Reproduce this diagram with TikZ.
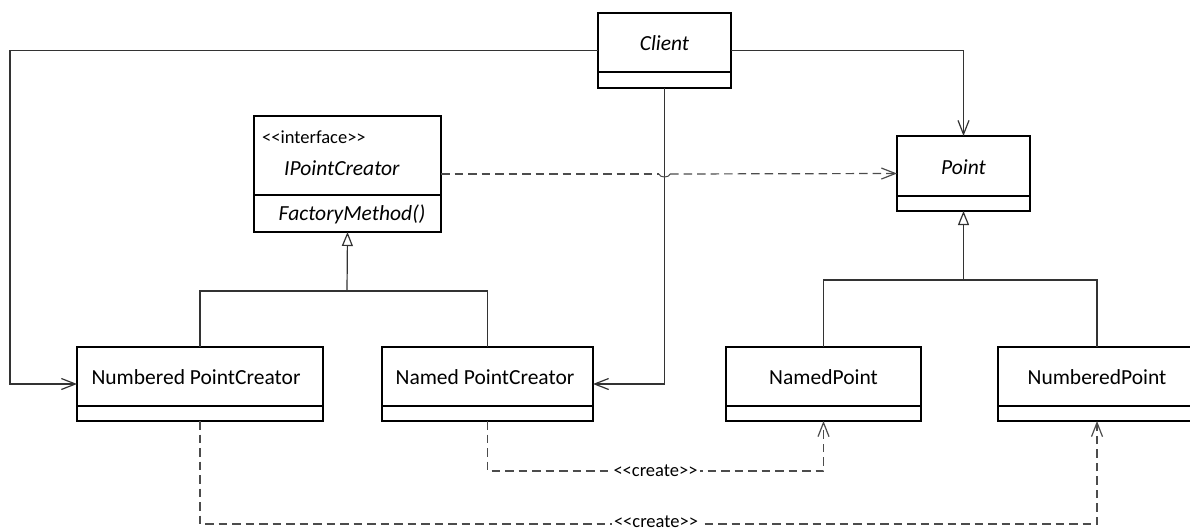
\documentclass[tikz,border=0pt]{standalone}
\usepackage{fontspec}
\setmainfont{Carlito}
\usetikzlibrary{arrows.meta}

% stereotype brackets, kept apart so they are not turned into guillemets
\newcommand\stereo[1]{<\kern0pt<#1>\kern0pt>}
% divider between two compartments of a class box
\newcommand\compline[2]{\draw[boxline] ([yshift=-#2pt]#1.north west) -- ([yshift=-#2pt]#1.north east);}

\begin{document}
\begin{tikzpicture}[x=1pt,y=-1pt,
  classbox/.style={draw=black,line width=1.4pt,inner sep=0pt,outer sep=0pt,anchor=north west},
  boxline/.style={draw=black,line width=1.4pt},
  maintext/.style={inner sep=0pt,font=\fontsize{21.5}{25}\selectfont},
  smalltext/.style={inner sep=0pt,font=\fontsize{18.5}{22}\selectfont},
  conn/.style={draw=black!80,line width=1.2pt},
  assoc/.style={conn,-{Straight Barb[length=14pt,width=11pt,line width=1.2pt]}},
  gen/.style={conn,-{Triangle[open,length=14pt,width=11pt,line width=1.2pt,fill=white]}},
  dep/.style={draw=black!70,line width=1.2pt,dash pattern=on 8.5pt off 5pt},
  deparrow/.style={dep,-{Straight Barb[length=14pt,width=11pt,line width=1.2pt]}},
  steretag/.style={smalltext,fill=white,inner xsep=2pt,inner ysep=1pt}
]
\useasboundingbox (0,0) rectangle (1190,527);

% ---- classes ----
\node[classbox,minimum width=133pt,minimum height=75pt] (client) at (598,13) {};
\compline{client}{59}
\node[maintext] (clientname) at ([yshift=-30pt]client.north) {\textit{Client}};

\node[classbox,minimum width=187pt,minimum height=116pt] (ipc) at (254,116) {};
\compline{ipc}{79}
\node[smalltext,anchor=west] (ipcstereo) at (262,137) {\stereo{interface}};
\node[maintext] (ipcname) at (342,168) {\textit{IPointCreator}};
\node[maintext] (ipcop) at (352,214) {\textit{FactoryMethod()}};

\node[classbox,minimum width=133pt,minimum height=75pt] (point) at (897,136) {};
\compline{point}{60}
\node[maintext] (pointname) at ([yshift=-31pt]point.north) {\textit{Point}};

\node[classbox,minimum width=246pt,minimum height=74pt] (numpc) at (77,347) {};
\compline{numpc}{59}
\node[maintext] (numpcname) at (196,377) {Numbered PointCreator};

\node[classbox,minimum width=211pt,minimum height=74pt] (nampc) at (382,347) {};
\compline{nampc}{59}
\node[maintext] (nampcname) at (485,377) {Named PointCreator};

\node[classbox,minimum width=195pt,minimum height=74pt] (namedpt) at (726,347) {};
\compline{namedpt}{59}
\node[maintext] (namedptname) at ([yshift=-30pt]namedpt.north) {NamedPoint};

\node[classbox,minimum width=198pt,minimum height=74pt] (numberedpt) at (998,347) {};
\compline{numberedpt}{59}
\node[maintext] (numberedptname) at ([yshift=-30pt]numberedpt.north) {NumberedPoint};

% ---- associations from Client ----
\coordinate (clcorner) at (10,50.5);
\draw[assoc] (client.west) -- (clcorner) |- (numpc.west);
\draw[assoc] (client.east) -| (point.north);
\draw[assoc] (client.south) |- (nampc.east);

% ---- dependency of the interface on Point, hopping over the Client line ----
\coordinate (hopA) at (659,174);
\coordinate (hopB) at (670,174);
\draw[dep] (ipc.east) -- (hopA);
\draw[draw=black!70,line width=1pt] (hopA) arc[start angle=180,end angle=360,x radius=5.5pt,y radius=3pt];
\draw[deparrow] (hopB) -- (point.west);

% ---- generalizations ----
\coordinate (genL) at (347,291);
\draw[conn] (numpc.north) |- (genL) -| (nampc.north);
\draw[gen] (genL) -- (ipc.south);

\coordinate (genR) at (963.5,280);
\draw[conn] (namedpt.north) |- (genR) -| (numberedpt.north);
\draw[gen] (genR) -- (point.south);

% ---- create dependencies ----
\coordinate (crA) at (487.5,471);
\coordinate (crB) at (823.5,471);
\draw[deparrow] (nampc.south) -- (crA) -- (crB) -- (namedpt.south);
\node[steretag] (createA) at (655.5,471) {\stereo{create}};

\coordinate (crC) at (200,524);
\coordinate (crD) at (1097,524);
\draw[deparrow] (numpc.south) -- (crC) -- (crD) -- (numberedpt.south);
\node[steretag] (createB) at (656,522) {\stereo{create}};
\end{tikzpicture}
\end{document}
